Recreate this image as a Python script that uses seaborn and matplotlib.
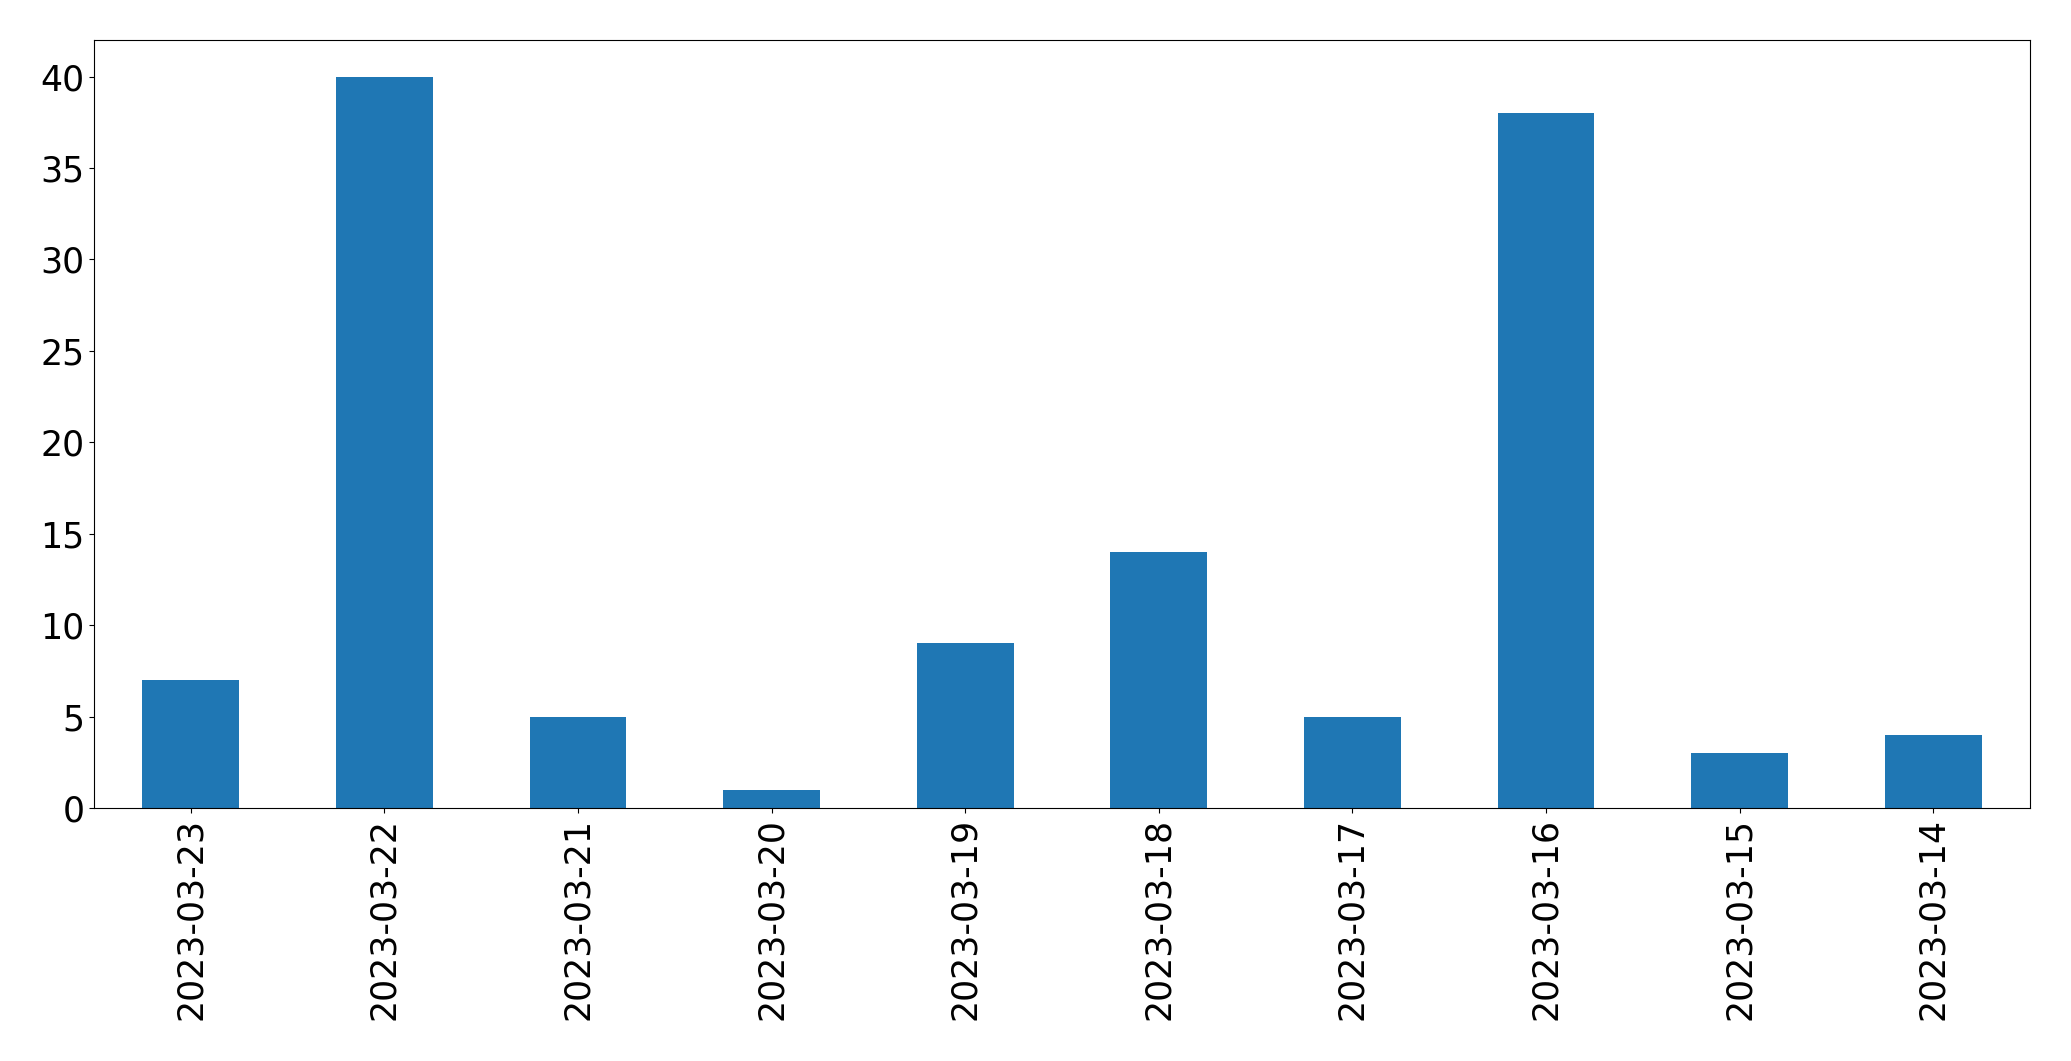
import matplotlib
matplotlib.use("Agg")
import matplotlib.pyplot as plt
import seaborn as sns
import pandas as pd

dates = ["2023-03-23", "2023-03-22", "2023-03-21", "2023-03-20", "2023-03-19",
         "2023-03-18", "2023-03-17", "2023-03-16", "2023-03-15", "2023-03-14"]
counts = [7, 40, 5, 1, 9, 14, 5, 38, 3, 4]

df = pd.DataFrame({"date": dates, "count": counts})

plt.rcdefaults()
plt.rcParams['font.family'] = ['DejaVu Sans']

fig, ax = plt.subplots(figsize=(20.71, 10.61), dpi=100)
sns.barplot(data=df, x="date", y="count", order=dates, color="#1f77b4",
            saturation=1, width=0.5, linewidth=0, ax=ax)
ax.set_xlim(-0.5, len(dates) - 0.5)
ax.set_ylim(0, 42)
ax.set_xlabel("")
ax.set_ylabel("")
ax.tick_params(axis="x", labelrotation=90, labelsize=25, colors="black")
ax.tick_params(axis="y", labelsize=25, colors="black")
for s in ax.spines.values():
    s.set_visible(True)
    s.set_color("black")
fig.subplots_adjust(left=94/2071, right=2030/2071, top=1-40/1061, bottom=1-808/1061)
fig.savefig("out.png", dpi=100)
